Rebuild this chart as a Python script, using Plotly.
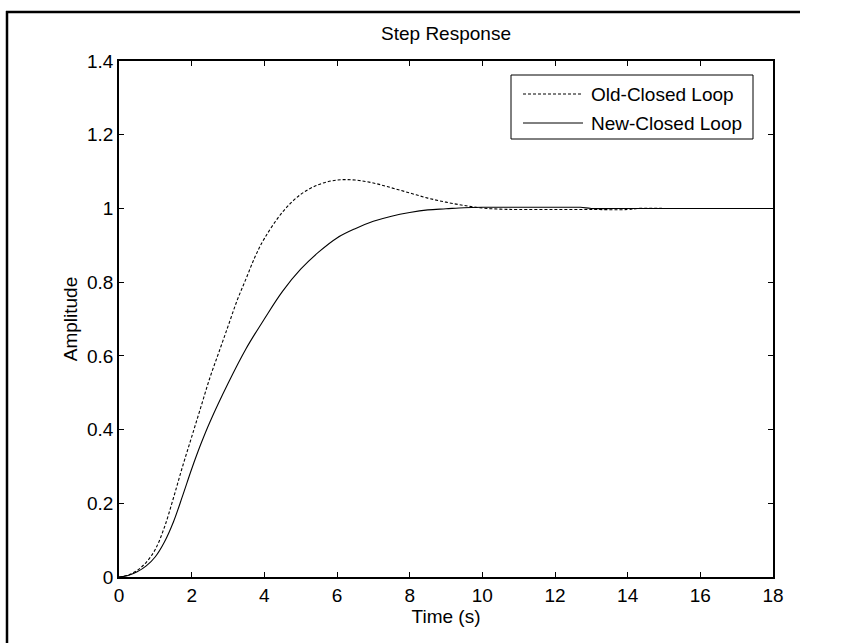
import plotly.graph_objects as go

# Step response values
t_old = [0, 0.25, 0.5, 0.75, 1.0, 1.25, 1.5, 1.75, 2.0, 2.25, 2.5, 2.75, 3.0, 3.25, 3.5, 3.75, 4.0,
         4.5, 5.0, 5.5, 6.0, 6.5, 7.0, 7.5, 8.0, 8.5, 9.0, 9.5, 10.0, 10.5, 11, 12,
         13, 14, 14.3, 15, 16, 17, 18]
a_old = [0, 0.005, 0.018, 0.04, 0.075, 0.135, 0.215, 0.30, 0.38, 0.46, 0.54, 0.61, 0.68, 0.75,
         0.81, 0.87, 0.918, 0.99, 1.038, 1.065, 1.077, 1.077, 1.069, 1.056, 1.042, 1.028, 1.017,
         1.008, 1.001, 0.998, 0.997, 0.997, 0.997, 0.997, 1.0, 1.0, 1.0, 1.0, 1.0]

t_new = [0, 0.25, 0.5, 0.75, 1.0, 1.25, 1.5, 1.75, 2.0, 2.25, 2.5, 3.0, 3.5, 4.0, 4.5, 5.0,
         5.5, 6.0, 6.5, 7.0, 7.5, 8.0, 8.5, 9.0, 9.5, 10, 11, 12, 12.7, 13, 14, 15,
         16, 17, 18]
a_new = [0, 0.004, 0.014, 0.03, 0.055, 0.095, 0.15, 0.22, 0.293, 0.36, 0.42, 0.525, 0.62, 0.70,
         0.775, 0.835, 0.882, 0.92, 0.945, 0.965, 0.979, 0.989, 0.996, 0.999, 1.002, 1.003,
         1.003, 1.003, 1.003, 1.0, 1.0, 1.0, 1.0, 1.0, 1.0]

series_names = ["Old-Closed Loop", "New-Closed Loop"]

x_ticks = [0, 2, 4, 6, 8, 10, 12, 14, 16, 18]
y_ticks = [0, 0.2, 0.4, 0.6, 0.8, 1.0, 1.2, 1.4]
y_labels = ["0", "0.2", "0.4", "0.6", "0.8", "1", "1.2", "1.4"]

FONT = "Liberation Sans, Arial, sans-serif"
FS = 19

# plot-area geometry in pixels (for paper-coordinate conversion of decorations)
W, H = 844, 644
PL, PR, PT, PB = 119, 773, 61, 577


def px(xpix):
    return (xpix - PL) / (PR - PL)


def py(ypix):
    return (PB - ypix) / (PB - PT)


DASH = "3px,2px"

fig = go.Figure()
fig.add_trace(go.Scatter(x=t_old, y=a_old, mode="lines", name=series_names[0], showlegend=False,
                         line=dict(color="black", width=1.1, dash=DASH, shape="spline", smoothing=1.0)))
fig.add_trace(go.Scatter(x=t_new, y=a_new, mode="lines", name=series_names[1], showlegend=False,
                         line=dict(color="black", width=1.1, shape="spline", smoothing=1.0)))

axis_common = dict(showgrid=False, zeroline=False, showline=True, linecolor="black",
                   linewidth=1.5, mirror="ticks", ticks="inside", ticklen=5,
                   tickcolor="black", tickwidth=1,
                   tickfont=dict(family=FONT, size=FS, color="black"))

fig.update_xaxes(range=[0, 18], tickvals=x_ticks, ticktext=[str(v) for v in x_ticks],
                 title=dict(text="Time (s)", font=dict(family=FONT, size=FS, color="black"), standoff=2),
                 **axis_common)
fig.update_yaxes(range=[0, 1.4], tickvals=y_ticks, ticktext=y_labels,
                 title=dict(text="Amplitude", font=dict(family=FONT, size=FS, color="black"), standoff=4),
                 **axis_common)

# outer frame of the picture (left and top edges visible)
fig.add_shape(type="line", xref="paper", yref="paper",
              x0=px(7), x1=px(7), y0=py(H - 1), y1=py(11),
              line=dict(color="black", width=2.5), layer="below")
fig.add_shape(type="line", xref="paper", yref="paper",
              x0=px(6), x1=px(800), y0=py(12), y1=py(12),
              line=dict(color="black", width=2.5), layer="below")

# legend box drawn as in the reference
fig.add_shape(type="rect", xref="paper", yref="paper",
              x0=px(511), x1=px(753), y0=py(139), y1=py(75),
              line=dict(color="black", width=1), fillcolor="white")
legend_rows = [94, 123]
legend_dash = [DASH, "solid"]
for name, row, dsh in zip(series_names, legend_rows, legend_dash):
    fig.add_shape(type="line", xref="paper", yref="paper",
                  x0=px(523), x1=px(583), y0=py(row), y1=py(row),
                  line=dict(color="black", width=1, dash=dsh))
    fig.add_annotation(xref="paper", yref="paper", x=px(589), y=py(row), text=name,
                       showarrow=False, xanchor="left", yanchor="middle",
                       font=dict(family=FONT, size=FS, color="black"))

fig.update_layout(
    width=W, height=H,
    margin=dict(l=PL, r=W - PR, t=PT, b=H - PB),
    paper_bgcolor="white", plot_bgcolor="white",
    title=dict(text="Step Response", x=446 / W, xanchor="center", y=1 - 33 / H, yanchor="middle",
               font=dict(family=FONT, size=FS, color="black")),
    font=dict(family=FONT, size=FS, color="black"),
    showlegend=False,
)

fig.write_html("out.html")
